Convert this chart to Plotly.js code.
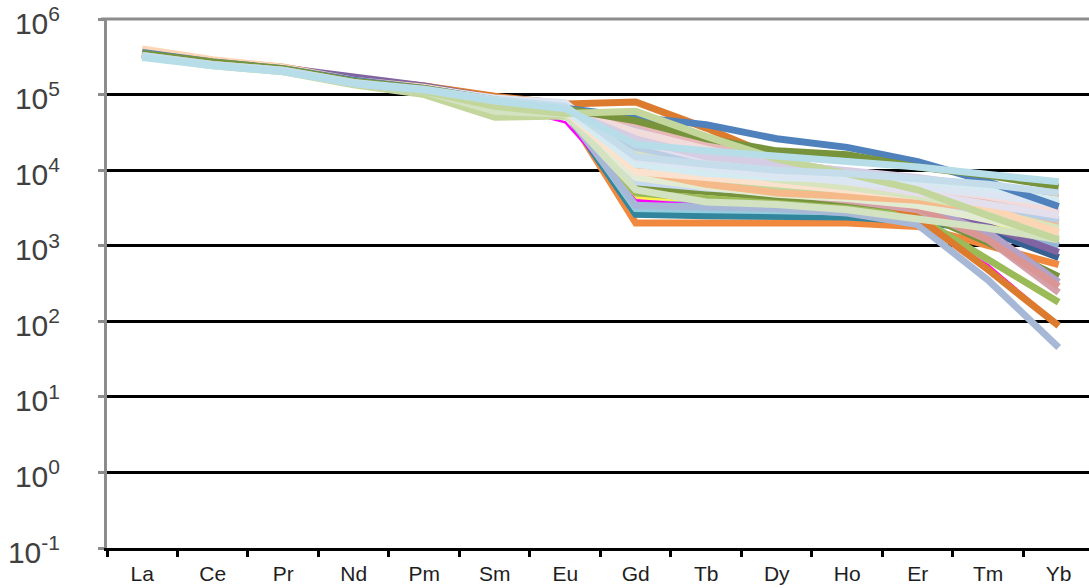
<!DOCTYPE html>
<html>
<head>
<meta charset="utf-8">
<script src="https://cdn.plot.ly/plotly-3.0.1.min.js"></script>
<style>
  html, body { margin: 0; padding: 0; background: #ffffff; }
  #chart { width: 1089px; height: 588px; }
</style>
</head>
<body>
<div id="chart"></div>
<script>
// Rare-earth element order along the x axis
const elements = ['La', 'Ce', 'Pr', 'Nd', 'Pm', 'Sm', 'Eu', 'Gd', 'Tb', 'Dy', 'Ho', 'Er', 'Tm', 'Yb'];

// Decade tick positions and their labels
const yTickVals = [0.1, 1, 10, 100, 1000, 10000, 100000, 1000000];
const yTickText = ['10<sup>-1</sup>', '10<sup>0</sup>', '10<sup>1</sup>', '10<sup>2</sup>',
                   '10<sup>3</sup>', '10<sup>4</sup>', '10<sup>5</sup>', '10<sup>6</sup>'];

// One profile per sample (La ... Yb)
const s01 = [3.6e5, 2.7e5, 2.2e5, 1.5e5, 1.2e5, 8.5e4, 6.2e4, 2.0e3, 2.0e3, 2.0e3, 2.0e3, 1.8e3, 1.0e3, 5.6e2];
const s02 = [3.4e5, 2.6e5, 2.1e5, 1.45e5, 1.15e5, 8.0e4, 6.0e4, 2.6e3, 2.5e3, 2.5e3, 2.4e3, 2.1e3, 1.6e3, 1.1e3];
const s03 = [3.5e5, 2.6e5, 2.2e5, 1.5e5, 1.2e5, 8.2e4, 6.4e4, 3.1e3, 3.0e3, 2.9e3, 2.8e3, 2.5e3, 1.8e3, 1.3e3];
const s04 = [3.3e5, 2.5e5, 2.1e5, 1.4e5, 1.1e5, 7.8e4, 5.8e4, 3.4e3, 3.2e3, 3.1e3, 2.7e3, 1.9e3, 3.5e2, 45];
const s05 = [3.4e5, 2.6e5, 2.15e5, 1.5e5, 1.15e5, 8.0e4, 6.0e4, 5.0e3, 4.2e3, 3.6e3, 3.1e3, 2.4e3, 6.6e2, 1.78e2];
const s06 = [3.3e5, 2.5e5, 2.05e5, 1.4e5, 1.1e5, 7.5e4, 4.3e4, 4.0e3, 3.4e3, 3.0e3, 2.6e3, 2.0e3, 5.5e2, 90];
const s07 = [3.8e5, 2.8e5, 2.3e5, 1.6e5, 1.3e5, 9.5e4, 7.5e4, 8.0e4, 3.6e4, 1.5e4, 6.0e3, 2.4e3, 4.8e2, 87];
const s08 = [3.5e5, 2.6e5, 2.2e5, 1.5e5, 1.2e5, 8.3e4, 6.3e4, 6.0e3, 5.2e3, 4.3e3, 3.6e3, 2.8e3, 1.1e3, 3.9e2];
const s09 = [3.4e5, 2.6e5, 2.1e5, 1.45e5, 1.15e5, 8.0e4, 6.0e4, 4.5e3, 4.2e3, 4.0e3, 3.6e3, 3.0e3, 2.0e3, 1.2e3];
const s10 = [3.6e5, 2.7e5, 2.2e5, 1.55e5, 1.2e5, 8.5e4, 6.6e4, 5.0e4, 4.0e4, 2.6e4, 2.0e4, 1.3e4, 7.0e3, 3.3e3];
const s11 = [3.5e5, 2.7e5, 2.2e5, 1.5e5, 1.2e5, 8.5e4, 6.5e4, 4.5e4, 2.6e4, 1.8e4, 1.6e4, 1.1e4, 8.5e3, 6.0e3];
const s12 = [3.3e5, 2.5e5, 2.1e5, 1.45e5, 1.1e5, 7.0e4, 5.6e4, 6.0e4, 2.8e4, 1.4e4, 9.0e3, 5.5e3, 2.5e3, 1.2e3];
const s13 = [3.4e5, 2.6e5, 2.1e5, 1.45e5, 1.1e5, 7.8e4, 5.9e4, 1.0e4, 7.5e3, 6.0e3, 5.0e3, 3.5e3, 1.6e3, 7.0e2];
const s14 = [3.5e5, 2.6e5, 2.2e5, 1.5e5, 1.2e5, 8.4e4, 6.3e4, 4.2e4, 2.2e4, 1.3e4, 9.5e3, 6.5e3, 4.2e3, 2.8e3];
const s15 = [3.3e5, 2.5e5, 2.1e5, 1.45e5, 1.15e5, 8.1e4, 6.1e4, 3.5e4, 1.6e4, 1.1e4, 8.5e3, 6.5e3, 5.0e3, 3.8e3];
const s16 = [4.0e5, 2.9e5, 2.3e5, 1.55e5, 1.25e5, 8.8e4, 6.7e4, 3.0e4, 1.7e4, 1.1e4, 8.0e3, 5.5e3, 3.2e3, 1.5e3];
const s17 = [3.4e5, 2.6e5, 2.1e5, 1.5e5, 1.15e5, 8.2e4, 6.2e4, 2.8e4, 1.5e4, 8.5e3, 5.5e3, 3.2e3, 1.2e3, 2.9e2];
const s18 = [3.3e5, 2.5e5, 2.05e5, 1.4e5, 1.1e5, 7.9e4, 6.0e4, 2.0e4, 1.3e4, 9.5e3, 7.5e3, 5.5e3, 3.5e3, 2.2e3];
const s19 = [3.5e5, 2.6e5, 2.2e5, 1.5e5, 1.2e5, 8.4e4, 6.4e4, 1.8e4, 1.1e4, 7.5e3, 6.0e3, 4.5e3, 3.0e3, 1.7e3];
const s20 = [3.6e5, 2.7e5, 2.2e5, 1.5e5, 1.2e5, 8.6e4, 6.5e4, 1.6e4, 1.0e4, 7.5e3, 6.5e3, 5.5e3, 5.0e3, 4.4e3];
const s21 = [3.5e5, 2.7e5, 2.25e5, 1.7e5, 1.3e5, 8.8e4, 6.4e4, 1.5e4, 9.0e3, 6.5e3, 5.0e3, 3.5e3, 1.8e3, 8.2e2];
const s22 = [3.5e5, 2.6e5, 2.15e5, 1.5e5, 1.15e5, 8.2e4, 6.2e4, 1.3e4, 8.5e3, 7.0e3, 6.0e3, 4.2e3, 2.4e3, 1.5e3];
const s23 = [3.3e5, 2.5e5, 2.05e5, 1.4e5, 1.1e5, 7.6e4, 5.8e4, 1.2e4, 7.5e3, 5.5e3, 4.5e3, 3.4e3, 1.5e3, 3.3e2];
const s24 = [3.4e5, 2.6e5, 2.1e5, 1.45e5, 1.12e5, 8.0e4, 6.0e4, 1.1e4, 7.0e3, 5.0e3, 4.0e3, 3.0e3, 1.2e3, 2.4e2];
const s25 = [3.2e5, 2.4e5, 2.0e5, 1.35e5, 1.0e5, 5.0e4, 5.2e4, 9.0e3, 6.5e3, 5.5e3, 4.8e3, 4.0e3, 3.2e3, 2.0e3];
const s26 = [3.3e5, 2.5e5, 2.1e5, 1.4e5, 1.1e5, 7.7e4, 5.8e4, 3.8e3, 3.5e3, 3.4e3, 3.2e3, 2.8e3, 2.2e3, 1.0e3];
const s27 = [3.4e5, 2.6e5, 2.1e5, 1.45e5, 1.15e5, 8.0e4, 6.0e4, 7.0e3, 5.8e3, 5.0e3, 4.5e3, 3.6e3, 2.8e3, 1.8e3];
const s28 = [3.5e5, 2.6e5, 2.2e5, 1.5e5, 1.2e5, 8.3e4, 6.3e4, 2.4e4, 1.4e4, 1.0e4, 7.0e3, 5.0e3, 3.5e3, 2.5e3];
const s29 = [3.5e5, 2.7e5, 2.2e5, 1.5e5, 1.2e5, 8.5e4, 6.5e4, 3.2e4, 1.9e4, 1.2e4, 8.5e3, 6.0e3, 4.5e3, 3.0e3];
const s30 = [3.3e5, 2.5e5, 2.1e5, 1.45e5, 1.1e5, 6.0e4, 5.5e4, 5.5e3, 3.8e3, 3.5e3, 3.0e3, 2.3e3, 1.7e3, 1.2e3];
const s31 = [3.4e5, 2.6e5, 2.15e5, 1.5e5, 1.2e5, 9.0e4, 7.8e4, 1.4e4, 1.1e4, 8.5e3, 7.0e3, 6.0e3, 4.8e3, 3.5e3];
const s32 = [3.3e5, 2.5e5, 2.1e5, 1.45e5, 1.18e5, 8.6e4, 7.0e4, 1.5e4, 1.2e4, 1.0e4, 9.0e3, 7.5e3, 6.5e3, 5.0e3];
const s33 = [3.1e5, 2.4e5, 2.0e5, 1.4e5, 1.15e5, 8.2e4, 6.5e4, 2.2e4, 1.8e4, 1.5e4, 1.3e4, 1.1e4, 9.0e3, 7.0e3];
const s34 = [3.4e5, 2.6e5, 2.1e5, 1.45e5, 1.15e5, 8.0e4, 6.1e4, 9.5e3, 8.0e3, 6.5e3, 5.5e3, 4.5e3, 3.8e3, 2.6e3];
const s35 = [3.5e5, 2.6e5, 2.2e5, 1.5e5, 1.2e5, 8.3e4, 6.3e4, 1.2e4, 9.0e3, 8.0e3, 7.5e3, 6.5e3, 5.5e3, 4.0e3];
const s36 = [3.3e5, 2.5e5, 2.05e5, 1.4e5, 1.1e5, 7.8e4, 5.9e4, 8.0e3, 6.0e3, 4.8e3, 4.2e3, 3.4e3, 2.2e3, 1.4e3];
const s37 = [3.5e5, 2.6e5, 2.2e5, 1.5e5, 1.2e5, 8.4e4, 6.4e4, 1.0e4, 6.5e3, 5.0e3, 4.5e3, 4.0e3, 3.0e3, 2.0e3];
const s38 = [3.4e5, 2.6e5, 2.1e5, 1.45e5, 1.15e5, 8.1e4, 6.2e4, 2.6e4, 1.5e4, 1.2e4, 1.0e4, 8.0e3, 6.0e3, 3.6e3];

// Drawing order (first is drawn underneath) with each line's colour
const profiles = [s01, s02, s03, s26, s09, s08, s05, s06, s04, s07, s13, s21, s23, s24, s17,
                  s20, s22, s27, s25, s36, s37, s30, s34, s19, s18, s15, s14, s16, s29, s28,
                  s38, s35, s31, s10, s11, s12, s32, s33];
const colours = ['#F0893E', '#31859C', '#93CDDD', '#95B3D7', '#FFF24A', '#77933C', '#9BBB59',
                 '#FF00FF', '#A7B8D6', '#DC7A2E', '#376092', '#8064A2', '#B3A2C7', '#D6A0AA',
                 '#D99694', '#F79646', '#FAC090', '#C6D9F1', '#C3D69B', '#E3ECD2', '#F6B98A',
                 '#D3E2C0', '#FBE2CF', '#D7E4BD', '#B9CDE5', '#CCC1DA', '#E6B9B8', '#FCD5B5',
                 '#F2DCDB', '#E4DFEC', '#D5CDE3', '#D5EBF2', '#DCE6F2', '#4F81BD', '#77933C',
                 '#C3D69B', '#C5DCEB', '#B7DEE8'];
const widths = profiles.map((p, i) => (colours[i] === '#FF00FF' ? 2.5 : 7));

const traces = profiles.map((vals, i) => ({
  type: 'scatter',
  mode: 'lines',
  x: elements,
  y: vals,
  line: { color: colours[i], width: widths[i], shape: 'linear' },
  hoverinfo: 'x+y',
  showlegend: false
}));

const layout = {
  width: 1089,
  height: 588,
  margin: { l: 107, r: 0, t: 19, b: 40, pad: 0 },
  paper_bgcolor: '#ffffff',
  plot_bgcolor: '#ffffff',
  font: { family: '"Liberation Sans", Arial, sans-serif', color: '#222222' },
  xaxis: {
    type: 'category',
    categoryorder: 'array',
    categoryarray: elements,
    range: [-0.5, 13.43],
    showgrid: false,
    zeroline: false,
    showline: true,
    linecolor: '#000000',
    linewidth: 3,
    ticks: 'outside',
    tickson: 'boundaries',
    ticklen: 6,
    tickwidth: 3,
    tickcolor: '#000000',
    ticklabelstandoff: 5,
    tickfont: { size: 21, color: '#1e1e1e' }
  },
  yaxis: {
    type: 'log',
    range: [-1, 6],
    tickmode: 'array',
    tickvals: yTickVals,
    ticktext: yTickText,
    showgrid: true,
    gridcolor: '#000000',
    gridwidth: 3,
    zeroline: false,
    showline: true,
    linecolor: '#8c8c8c',
    linewidth: 3,
    ticks: 'outside',
    ticklen: 6,
    tickwidth: 3,
    tickcolor: '#8c8c8c',
    ticklabelstandoff: 32,
    ticklabelshift: 4,
    ticklabeloverflow: 'allow',
    tickfont: { size: 30, color: '#404040' }
  },
  shapes: [{
    type: 'line', xref: 'paper', yref: 'paper',
    x0: -0.006, x1: 1, y0: 1, y1: 1,
    line: { color: '#8c8c8c', width: 3 },
    layer: 'above'
  }]
};

Plotly.newPlot('chart', traces, layout, { displayModeBar: false, staticPlot: true });
</script>
</body>
</html>
